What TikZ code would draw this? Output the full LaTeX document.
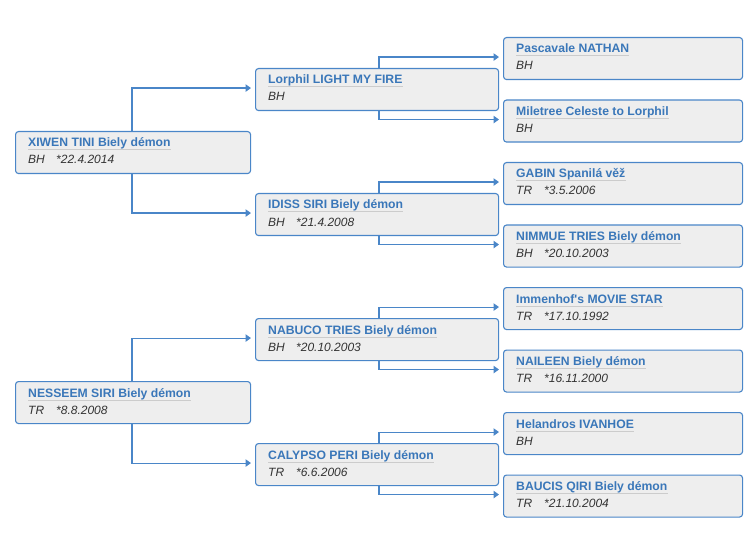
\documentclass[tikz,border=0pt]{standalone}
\usepackage{fontspec}
\setmainfont{Liberation Sans}
\usetikzlibrary{arrows.meta}
\definecolor{lineblue}{HTML}{4A86C8}
\definecolor{titleblue}{HTML}{3A77B9}
\definecolor{boxfill}{HTML}{EEEEEE}
\definecolor{subgray}{HTML}{333333}
\definecolor{ulgray}{HTML}{CCCCCC}
\tikzset{
 pbox/.style={draw=lineblue, line width=1.1pt, fill=boxfill, rounded corners=3pt, minimum height=42pt, inner sep=0pt, anchor=north west},
 ttl/.style={font=\fontsize{12.2}{14}\selectfont\bfseries, text=titleblue, inner sep=0pt, anchor=base west},
 sub/.style={font=\fontsize{12}{14}\selectfont\itshape, text=subgray, inner sep=0pt, anchor=base west},
 ul/.style={draw=ulgray, line width=1pt},
 conn/.style={draw=lineblue, line width=1.1pt, -{Triangle[length=5.5pt,width=7.5pt]}, shorten >=4pt},
}
\newcommand\dogbox[6]{%
 \node[pbox, minimum width=#4pt] (#1) at (#2,#3) {};
 \node[ttl] (#1t) at ([xshift=13pt,yshift=-16pt]#1.north west) {#5};
 \draw[ul] ([yshift=-3pt]#1t.base west) -- ([yshift=-3pt]#1t.base east);
 \node[sub] (#1s) at ([xshift=13pt,yshift=-33pt]#1.north west) {#6};
}
\newcommand\dt[2]{\makebox[28pt][l]{#1}#2}
\begin{document}
\begin{tikzpicture}[x=1pt,y=-1pt]
\useasboundingbox (0,0) rectangle (755,548);
% column 1
\dogbox{xiwen}{15}{131}{235}{XIWEN TINI Biely démon}{\dt{BH}{*22.4.2014}}
\dogbox{nesseem}{15}{381}{235}{NESSEEM SIRI Biely démon}{\dt{TR}{*8.8.2008}}
% column 2
\dogbox{lorphil}{255}{68}{243}{Lorphil LIGHT MY FIRE}{BH}
\dogbox{idiss}{255}{193}{243}{IDISS SIRI Biely démon}{\dt{BH}{*21.4.2008}}
\dogbox{nabuco}{255}{318}{243}{NABUCO TRIES Biely démon}{\dt{BH}{*20.10.2003}}
\dogbox{calypso}{255}{443}{243}{CALYPSO PERI Biely démon}{\dt{TR}{*6.6.2006}}
% column 3
\dogbox{pasc}{503}{37}{239}{Pascavale NATHAN}{BH}
\dogbox{mile}{503}{99.5}{239}{Miletree Celeste to Lorphil}{BH}
\dogbox{gabin}{503}{162}{239}{GABIN Spanilá věž}{\dt{TR}{*3.5.2006}}
\dogbox{nimmue}{503}{224.5}{239}{NIMMUE TRIES Biely démon}{\dt{BH}{*20.10.2003}}
\dogbox{immen}{503}{287}{239}{Immenhof\textquotesingle s MOVIE STAR}{\dt{TR}{*17.10.1992}}
\dogbox{naileen}{503}{349.5}{239}{NAILEEN Biely démon}{\dt{TR}{*16.11.2000}}
\dogbox{heland}{503}{412}{239}{Helandros IVANHOE}{BH}
\dogbox{baucis}{503}{474.5}{239}{BAUCIS QIRI Biely démon}{\dt{TR}{*21.10.2004}}
% connectors column 1 -> 2
\draw[conn] ([xshift=117pt]xiwen.north west) |- ([yshift=1.5pt]lorphil.west);
\draw[conn] ([xshift=117pt]xiwen.south west) |- ([yshift=1.5pt]idiss.west);
\draw[conn] ([xshift=117pt]nesseem.north west) |- ([yshift=1.5pt]nabuco.west);
\draw[conn] ([xshift=117pt]nesseem.south west) |- ([yshift=1.5pt]calypso.west);
% connectors column 2 -> 3
\draw[conn] ([xshift=124pt]lorphil.north west) |- ([yshift=1.5pt]pasc.west);
\draw[conn] ([xshift=124pt]lorphil.south west) |- ([yshift=1.5pt]mile.west);
\draw[conn] ([xshift=124pt]idiss.north west) |- ([yshift=1.5pt]gabin.west);
\draw[conn] ([xshift=124pt]idiss.south west) |- ([yshift=1.5pt]nimmue.west);
\draw[conn] ([xshift=124pt]nabuco.north west) |- ([yshift=1.5pt]immen.west);
\draw[conn] ([xshift=124pt]nabuco.south west) |- ([yshift=1.5pt]naileen.west);
\draw[conn] ([xshift=124pt]calypso.north west) |- ([yshift=1.5pt]heland.west);
\draw[conn] ([xshift=124pt]calypso.south west) |- ([yshift=1.5pt]baucis.west);
\end{tikzpicture}
\end{document}
